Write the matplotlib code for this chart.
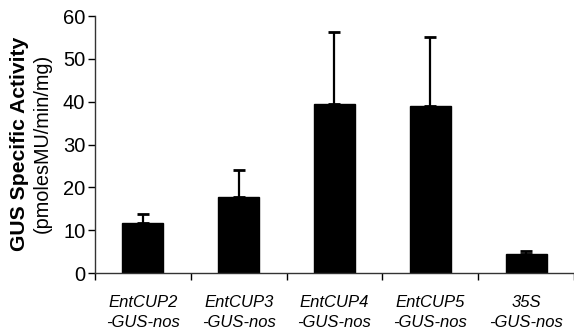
import matplotlib
matplotlib.use("Agg")
import matplotlib.pyplot as plt

plt.rcParams["font.family"] = ["Liberation Sans", "DejaVu Sans"]

labels = ["EntCUP2\n-GUS-nos", "EntCUP3\n-GUS-nos", "EntCUP4\n-GUS-nos",
          "EntCUP5\n-GUS-nos", "35S\n-GUS-nos"]
means = [11.7, 17.7, 39.4, 38.9, 4.4]
upper_err = [2.0, 6.3, 16.9, 16.3, 0.7]

fig = plt.figure(figsize=(5.74, 3.30), dpi=100)
ax = fig.add_axes([0.1655, 0.1727, 0.8345, 0.7788])

x = list(range(len(means)))
ax.bar(x, means, width=0.43, color="black", edgecolor="black")
ax.errorbar(x, means, yerr=[[0] * len(means), upper_err], fmt="none",
            ecolor="black", elinewidth=1.6, capsize=4, capthick=2)

ax.set_ylim(0, 60)
ax.set_xlim(-0.5, 4.44)
ax.set_yticks(range(0, 61, 10))
ax.set_xticks([i + 0.5 for i in range(-1, 5)], minor=False)
ax.set_xticklabels([])
ax.set_xticks(x, minor=True)
ax.set_xticklabels(labels, minor=True, fontsize=12, style="italic",
                   linespacing=1.4)
ax.tick_params(axis="x", which="minor", length=0, pad=16)
ax.tick_params(axis="x", which="major", length=5, width=1, direction="out")
ax.tick_params(axis="y", length=5, width=1, direction="out", labelsize=14.5, pad=2)

for side in ("top", "right"):
    ax.spines[side].set_visible(False)
for side in ("left", "bottom"):
    ax.spines[side].set_linewidth(1)
    ax.spines[side].set_color("#333333")

fig.text(0.034, 0.565, "GUS Specific Activity", rotation=90, ha="center",
         va="center", fontsize=15.2, fontweight="bold")
fig.text(0.074, 0.565, "(pmolesMU/min/mg)", rotation=90, ha="center",
         va="center", fontsize=14.3)

plt.savefig("out.png", dpi=100, facecolor="white")
